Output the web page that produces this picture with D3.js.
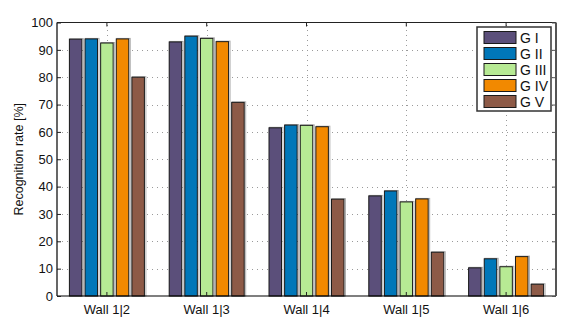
<!DOCTYPE html>
<html>
<head>
<meta charset="utf-8">
<script src="https://cdn.jsdelivr.net/npm/d3@7"></script>
<style>
  html, body { margin: 0; padding: 0; background: #fff; }
  svg { display: block; font-family: "Liberation Sans", Arial, sans-serif; }
</style>
</head>
<body>
<svg id="chart" width="578" height="326"></svg>
<script>
// Recognition rate per wall pair and group
const categories = ["Wall 1|2", "Wall 1|3", "Wall 1|4", "Wall 1|5", "Wall 1|6"];
const seriesNames = ["G I", "G II", "G III", "G IV", "G V"];
const gI   = [93.9, 92.9, 61.5, 36.6, 10.3];
const gII  = [94.0, 95.0, 62.5, 38.4, 13.6];
const gIII = [92.5, 94.2, 62.4, 34.4, 10.7];
const gIV  = [94.0, 93.0, 61.9, 35.5, 14.4];
const gV   = [80.0, 70.8, 35.4, 16.0, 4.3];
const yTicks = [0, 10, 20, 30, 40, 50, 60, 70, 80, 90, 100];
const colors = ["#5b4f7a", "#0077b9", "#b7ea94", "#f28900", "#8d5a47"];

const series = [gI, gII, gIII, gIV, gV];

const margin = { left: 57, right: 22, top: 22.5, bottom: 30 };
const W = 578, H = 326;
const x0 = margin.left, x1 = W - margin.right;
const y0 = H - margin.bottom, y1 = margin.top;

const svg = d3.select("#chart");

const x = d3.scaleBand().domain(categories).range([x0, x1]).paddingInner(0).paddingOuter(0);
const xs = d3.scaleBand().domain(seriesNames).range([-37.5, 37.5]).paddingInner(0.2);
const y = d3.scaleLinear().domain([0, 100]).range([y0, y1]);

// dotted grid
const grid = svg.append("g").attr("stroke", "#9a9a9a").attr("stroke-width", 1)
  .attr("stroke-dasharray", "1,4");
grid.selectAll("line.h").data(yTicks.slice(1, -1)).join("line")
  .attr("x1", x0).attr("x2", x1)
  .attr("y1", d => Math.round(y(d)) + 0.5).attr("y2", d => Math.round(y(d)) + 0.5);
grid.selectAll("line.v").data(categories).join("line")
  .attr("x1", d => Math.round(x(d) + x.bandwidth() / 2) + 0.5)
  .attr("x2", d => Math.round(x(d) + x.bandwidth() / 2) + 0.5)
  .attr("y1", y0).attr("y2", y1);

// bars
const rows = [];
categories.forEach((c, i) => {
  series.forEach((s, j) => rows.push({ c, s: seriesNames[j], v: s[i], j }));
});
const bars = svg.append("g");
// soft shadow behind each bar
bars.selectAll("rect.sh").data(rows).join("rect")
  .attr("x", d => x(d.c) + x.bandwidth() / 2 + xs(d.s) + 0.5)
  .attr("y", d => y(d.v) - 0.5)
  .attr("width", xs.bandwidth() + 1)
  .attr("height", d => y0 - y(d.v) + 0.5)
  .attr("fill", "none").attr("stroke", "#b0b0b0").attr("stroke-width", 1);
bars.selectAll("rect.b").data(rows).join("rect")
  .attr("x", d => x(d.c) + x.bandwidth() / 2 + xs(d.s))
  .attr("y", d => y(d.v))
  .attr("width", xs.bandwidth())
  .attr("height", d => y0 - y(d.v))
  .attr("fill", d => colors[d.j])
  .attr("stroke", "#1a1a1a").attr("stroke-width", 1);

// frame: left/bottom black, top/right dark gray
svg.append("line").attr("x1", x0).attr("x2", x0).attr("y1", y0).attr("y2", y1)
  .attr("stroke", "#000").attr("stroke-width", 1.2);
svg.append("line").attr("x1", x0).attr("x2", x1).attr("y1", y0).attr("y2", y0)
  .attr("stroke", "#000").attr("stroke-width", 1.2);
svg.append("line").attr("x1", x0).attr("x2", x1).attr("y1", y1).attr("y2", y1)
  .attr("stroke", "#222").attr("stroke-width", 1);
svg.append("line").attr("x1", x1).attr("x2", x1).attr("y1", y0).attr("y2", y1)
  .attr("stroke", "#555").attr("stroke-width", 2);

// axes with inward ticks
const yAxisL = svg.append("g").attr("transform", `translate(${x0},0)`)
  .call(d3.axisLeft(y).tickValues(yTicks).tickSize(-4).tickPadding(4));
const yAxisR = svg.append("g").attr("transform", `translate(${x1},0)`)
  .call(d3.axisRight(y).tickValues(yTicks).tickSize(-4).tickFormat(""));
const xAxisB = svg.append("g").attr("transform", `translate(0,${y0})`)
  .call(d3.axisBottom(x).tickSize(-4).tickPadding(9));
const xAxisT = svg.append("g").attr("transform", `translate(0,${y1})`)
  .call(d3.axisTop(x).tickSize(-4).tickFormat(""));
[yAxisL, yAxisR, xAxisB, xAxisT].forEach(g => {
  g.select(".domain").remove();
  g.selectAll(".tick line").attr("stroke", "#222");
  g.selectAll("text").attr("fill", "#111").attr("font-size", 13)
    .attr("font-family", "'Liberation Sans', Arial, sans-serif");
});
yAxisR.selectAll(".tick line").attr("stroke", "#555");

// y label
svg.append("text")
  .attr("transform", `translate(23,${(y0 + y1) / 2}) rotate(-90)`)
  .attr("text-anchor", "middle")
  .attr("font-size", 12.5).attr("fill", "#111")
  .text("Recognition rate [%]");

// legend
const lg = svg.append("g").attr("transform", "translate(477,27)");
lg.append("rect").attr("x", 0).attr("y", 0).attr("width", 74).attr("height", 84)
  .attr("fill", "#fff").attr("stroke", "#333").attr("stroke-width", 1.5);
const items = lg.selectAll("g.it").data(seriesNames).join("g")
  .attr("transform", (d, i) => `translate(7,${4.5 + i * 16})`);
items.append("rect").attr("width", 32).attr("height", 12)
  .attr("fill", (d, i) => colors[i]).attr("stroke", "#1a1a1a").attr("stroke-width", 1);
items.append("text").attr("x", 36).attr("y", 11.5)
  .attr("font-size", 14).attr("fill", "#111").text(d => d);
</script>
</body>
</html>
